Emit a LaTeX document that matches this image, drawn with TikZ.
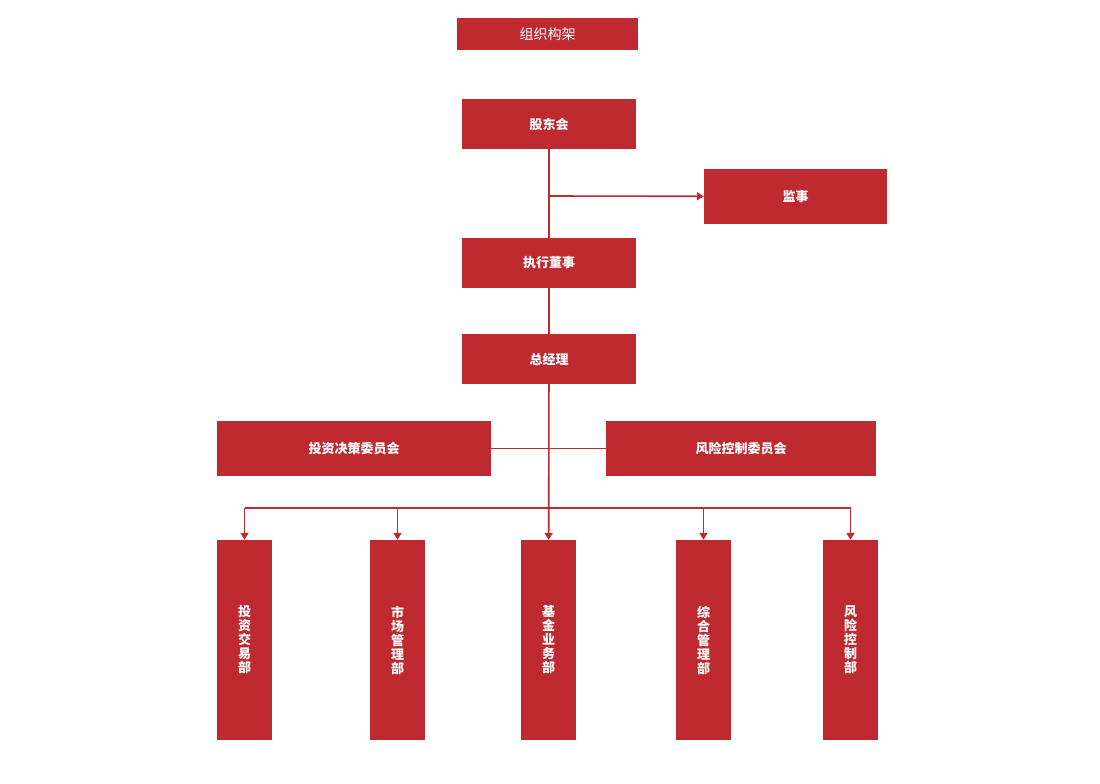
\documentclass[tikz,border=0pt]{standalone}
\usepackage{fontspec}
\setmainfont{Noto Sans CJK SC}
\usetikzlibrary{arrows.meta}
\definecolor{orgred}{HTML}{BE2A30}
\tikzset{
  box/.style={fill=orgred,text=white,inner sep=0pt,font=\fontsize{13}{15}\selectfont\bfseries},
  vbox/.style={box,minimum width=55pt,minimum height=200pt,align=center,font=\fontsize{13}{14}\selectfont\bfseries},
  link/.style={draw=orgred,line width=1.6pt},
  arr/.style={link,-{Triangle[length=7pt,width=8pt]}}
}
\begin{document}
\begin{tikzpicture}[x=1pt,y=-1pt]
\useasboundingbox (0,0) rectangle (1100,784);
\node[box,minimum width=181pt,minimum height=32pt,font=\fontsize{14}{16}\selectfont] (title) at (547.5,34) {组织构架};
\node[box,minimum width=174pt,minimum height=50pt] (gdh) at (549,124) {股东会};
\node[box,minimum width=183pt,minimum height=55pt] (js) at (795.5,196.5) {监事};
\node[box,minimum width=174pt,minimum height=50pt] (zxds) at (549,263) {执行董事};
\node[box,minimum width=174pt,minimum height=50pt] (zjl) at (549,359) {总经理};
\node[box,minimum width=274pt,minimum height=55pt] (tzjc) at (354,448.5) {投资决策委员会};
\node[box,minimum width=270pt,minimum height=55pt] (fxkz) at (741,448.5) {风险控制委员会};
\node[vbox] (d1) at (244.5,640) {投\\资\\交\\易\\部};
\node[vbox] (d2) at (397.5,640) {市\\场\\管\\理\\部};
\node[vbox] (d3) at (548.5,640) {基\\金\\业\\务\\部};
\node[vbox] (d4) at (703.5,640) {综\\合\\管\\理\\部};
\node[vbox] (d5) at (850.5,640) {风\\险\\控\\制\\部};
\coordinate (bus) at (549,508);
\draw[link] (gdh) -- (zxds);
\draw[arr] (549,196) -- (js);
\draw[link] (zxds) -- (zjl);
\draw[link] (tzjc) -- (fxkz);
\draw[arr] (zjl) -- (d3);
\draw[link] (d1.north |- bus) -- (d5.north |- bus);
\foreach \d in {d1,d2,d4,d5}
  \draw[arr] (\d.north |- bus) -- (\d.north);
\end{tikzpicture}
\end{document}
